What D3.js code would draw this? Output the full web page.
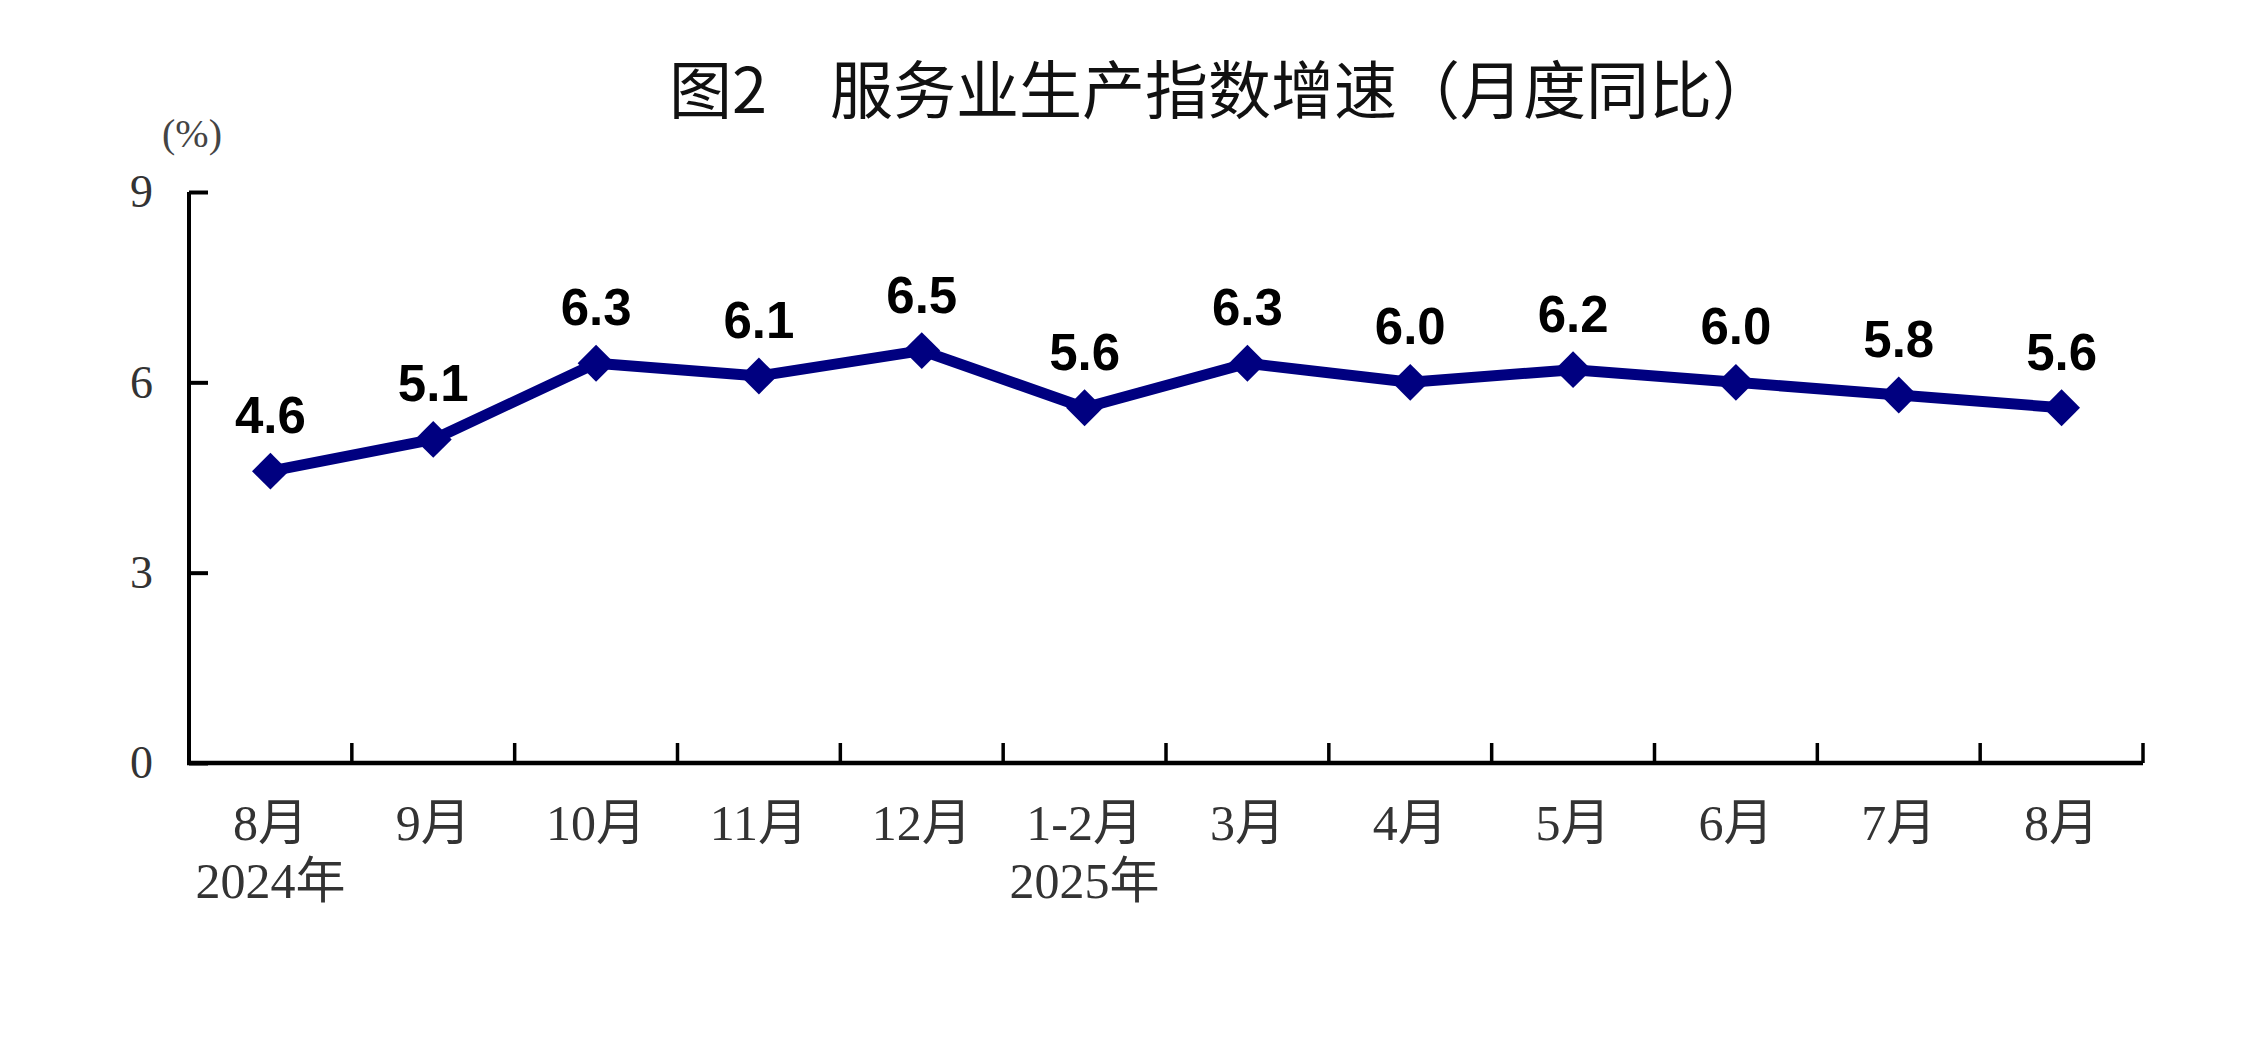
<!DOCTYPE html>
<html>
<head>
<meta charset="utf-8">
<script src="https://cdn.jsdelivr.net/npm/d3@7"></script>
<style>
  html, body { margin: 0; padding: 0; background: #fff; }
</style>
</head>
<body>
<div id="chart"></div>
<script>
// données
const months = ['8月', '9月', '10月', '11月', '12月', '1-2月', '3月', '4月', '5月', '6月', '7月', '8月 '];
const years = ['2024年', '', '', '', '', '2025年', '', '', '', '', '', ''];
const growth = [4.6, 5.1, 6.3, 6.1, 6.5, 5.6, 6.3, 6.0, 6.2, 6.0, 5.8, 5.6];
const yTicks = [0, 3, 6, 9];
const title = '图2　服务业生产指数增速（月度同比）';
const unit = '(%)';

const width = 2251, height = 1049;
const serif = '"Liberation Serif", "Noto Sans CJK SC", serif';

const svg = d3.select('#chart')
    .append('svg')
    .attr('width', width)
    .attr('height', height)
    .attr('viewBox', `0 0 ${width} ${height}`);

// échelles
const x = d3.scaleBand().domain(months).range([189, 2143]);
const y = d3.scaleLinear().domain([0, 9]).range([763, 192]);

// titre
svg.append('text')
    .text(title)
    .attr('x', 669)
    .attr('y', 113)
    .attr('fill', '#111')
    .attr('font-family', '"Noto Sans CJK SC", sans-serif')
    .attr('font-size', '63px');

// unité
svg.append('text')
    .text(unit)
    .attr('x', 192)
    .attr('y', 147)
    .attr('text-anchor', 'middle')
    .attr('fill', '#444')
    .attr('font-family', serif)
    .attr('font-size', '40px');

// axe Y
const yAxis = svg.append('g')
    .attr('transform', `translate(${x.range()[0]},0)`)
    .call(d3.axisLeft(y).tickValues(yTicks).tickSize(-19).tickPadding(36).tickFormat(d3.format('d')));
yAxis.select('.domain')
    .attr('d', `M0,${y(0)}V${y(9)}`)
    .attr('stroke', '#000')
    .attr('stroke-width', 4);
yAxis.selectAll('.tick line')
    .attr('stroke', '#000')
    .attr('stroke-width', 4);
yAxis.selectAll('.tick text')
    .attr('fill', '#333')
    .attr('font-family', serif)
    .attr('font-size', '46px');

// axe X
const xAxis = svg.append('g')
    .attr('transform', `translate(0,${y(0)})`);
xAxis.append('line')
    .attr('x1', x.range()[0] - 2)
    .attr('x2', x.range()[1])
    .attr('stroke', '#000')
    .attr('stroke-width', 4.5);
xAxis.selectAll('.xtick')
    .data(months)
    .enter()
    .append('line')
    .attr('class', 'xtick')
    .attr('x1', d => x(d) + x.bandwidth())
    .attr('x2', d => x(d) + x.bandwidth())
    .attr('y1', 0)
    .attr('y2', -20)
    .attr('stroke', '#000')
    .attr('stroke-width', 3.5);

// étiquettes des mois et des années
const labels = xAxis.selectAll('.xlabel')
    .data(months)
    .enter()
    .append('g')
    .attr('class', 'xlabel')
    .attr('transform', d => `translate(${x(d) + x.bandwidth() / 2},0)`);
labels.append('text')
    .text(d => d.trim())
    .attr('y', 77)
    .attr('text-anchor', 'middle')
    .attr('fill', '#333')
    .attr('font-family', serif)
    .attr('font-size', '50px');
labels.append('text')
    .text((d, i) => years[i])
    .attr('y', 135)
    .attr('text-anchor', 'middle')
    .attr('fill', '#333')
    .attr('font-family', serif)
    .attr('font-size', '50px');

// courbe
const pts = months.map((m, i) => ({ m: m, v: growth[i] }));
const cx = d => x(d.m) + x.bandwidth() / 2;

svg.append('path')
    .datum(pts)
    .attr('fill', 'none')
    .attr('stroke', '#000080')
    .attr('stroke-width', 11)
    .attr('stroke-linejoin', 'round')
    .attr('d', d3.line().x(cx).y(d => y(d.v)));

// marqueurs en losange
svg.selectAll('.marker')
    .data(pts)
    .enter()
    .append('path')
    .attr('class', 'marker')
    .attr('d', d3.symbol(d3.symbolSquare, 680))
    .attr('transform', d => `translate(${cx(d)},${y(d.v)}) rotate(45)`)
    .attr('fill', '#000080');

// valeurs
svg.selectAll('.value')
    .data(pts)
    .enter()
    .append('text')
    .attr('class', 'value')
    .text(d => d.v.toFixed(1))
    .attr('x', cx)
    .attr('y', d => y(d.v) - 38)
    .attr('text-anchor', 'middle')
    .attr('fill', '#000')
    .attr('font-family', '"Liberation Sans", Arial, sans-serif')
    .attr('font-weight', 'bold')
    .attr('font-size', '51px');
</script>
</body>
</html>
